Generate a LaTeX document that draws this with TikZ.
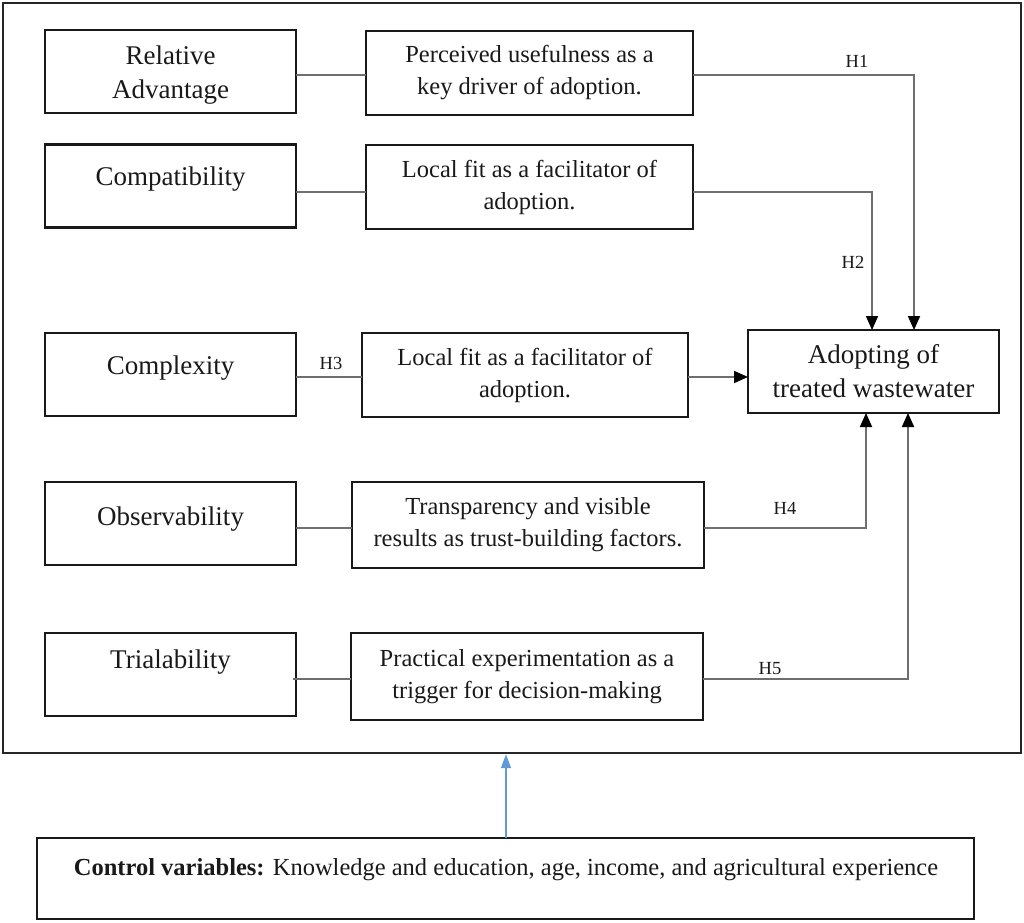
\documentclass[tikz,border=0pt]{standalone}
\usepackage{fontspec}
\setmainfont{Liberation Serif}
\usetikzlibrary{arrows.meta}
\definecolor{linegray}{RGB}{110,110,110}
\definecolor{boxblack}{RGB}{25,25,25}
\definecolor{ctrlblue}{RGB}{95,155,215}
\begin{document}
\begin{tikzpicture}[x=1pt,y=-1pt,
  box/.style={draw=boxblack,line width=2.6pt,inner sep=0pt,outer sep=0pt},
  leftbox/.style={box,minimum width=251pt,minimum height=83pt},
  midtext/.style={align=center,font=\fontsize{24.5}{32}\selectfont,text=boxblack},
  bigtext/.style={align=center,font=\fontsize{27}{34}\selectfont,text=boxblack},
  hlabel/.style={font=\fontsize{18.5}{20}\selectfont,text=boxblack,inner sep=0pt},
  conn/.style={draw=linegray,line width=1.8pt},
  arr/.style={conn,-{Triangle[length=14pt,width=12pt]},arrows={[color=black]}}
]
\useasboundingbox (0,0) rectangle (1024,922);
% outer frame
\node[draw=black!85,line width=2.4pt,minimum width=1018pt,minimum height=750pt,inner sep=0pt] (frame) at (512,378) {};
% left column boxes
\node[leftbox] (ra) at (170.5,71.5) {};
\node[leftbox] (co) at (170.5,186) {};
\node[leftbox] (cx) at (170.5,374.5) {};
\node[leftbox] (ob) at (170.5,523.5) {};
\node[leftbox] (tr) at (170.5,674.5) {};
\node[bigtext] (rat) at (170.5,75) {Relative\\Advantage};
\node[bigtext,anchor=base] (cot) at (170.5,185) {Compatibility};
\node[bigtext,anchor=base] (cxt) at (170.5,374) {Complexity};
\node[bigtext,anchor=base] (obt) at (170.5,525) {Observability};
\node[bigtext,anchor=base] (trt) at (170.5,668) {Trialability};
% middle column boxes
\node[box,midtext,minimum width=327pt,minimum height=84pt] (pu) at (529.5,73) {Perceived usefulness as a\\key driver of adoption.};
\node[box,midtext,minimum width=327pt,minimum height=84pt] (lf1) at (529.5,187) {Local fit as a facilitator of\\adoption.};
\node[box,midtext,minimum width=326pt,minimum height=84pt] (lf2) at (525,375) {Local fit as a facilitator of\\adoption.};
\node[box,midtext,minimum width=352pt,minimum height=86pt] (tp) at (528,525) {Transparency and visible\\results as trust-building factors.};
\node[box,midtext,minimum width=352pt,minimum height=87pt] (pe) at (527,676.5) {Practical experimentation as a\\trigger for decision-making};
% target
\node[box,bigtext,minimum width=251pt,minimum height=83pt] (tg) at (873.5,371.5) {Adopting of\\treated wastewater};
% control
\node[box,minimum width=937pt,minimum height=81pt] (ctrl) at (505.5,878.5) {};
\node[anchor=base,font=\fontsize{24.5}{30}\selectfont,text=boxblack] (ctrlt) at (506,875) {\textbf{Control variables:} Knowledge and education, age, income, and agricultural experience};
% connectors left-mid
\draw[conn] ([yshift=-3.5]ra.east) -- ([yshift=-3.5]ra.east -| pu.west);
\draw[conn] ([yshift=-6]co.east) -- ([yshift=-6]co.east -| lf1.west);
\draw[conn] ([yshift=-2.5]cx.east) -- ([yshift=-2.5]cx.east -| lf2.west);
\draw[conn] ([yshift=-4.5]ob.east) -- ([yshift=-4.5]ob.east -| tp.west);
\draw[conn] ([xshift=-3,yshift=-4.5]tr.east) -- ([yshift=-4.5]tr.east -| pe.west);
% connectors to target
\coordinate (h1t) at ([xshift=40.5]tg.north);
\coordinate (h2t) at ([xshift=-1.5]tg.north);
\coordinate (h4b) at ([xshift=-7.5]tg.south);
\coordinate (h5b) at ([xshift=34.5]tg.south);
\draw[arr] ([yshift=-2]pu.east) -| (h1t);
\draw[arr] ([yshift=-5]lf1.east) -| (h2t);
\draw[arr] ([yshift=-2]lf2.east) -- ([yshift=-2]lf2.east -| tg.west);
\draw[arr] ([yshift=-3]tp.east) -| (h4b);
\draw[arr] ([yshift=-2.5]pe.east) -| (h5b);
% control arrow
\draw[draw=ctrlblue,line width=1.6pt,-{Triangle[length=14pt,width=10pt]}] (ctrl.north -| 506,0) -- (frame.south -| 506,0);
% hypothesis labels
\node[hlabel] (H1) at (857,61) {H1};
\node[hlabel] (H2) at (853,262) {H2};
\node[hlabel] (H3) at (331,363) {H3};
\node[hlabel] (H4) at (785,508) {H4};
\node[hlabel] (H5) at (770,669) {H5};
\end{tikzpicture}
\end{document}
